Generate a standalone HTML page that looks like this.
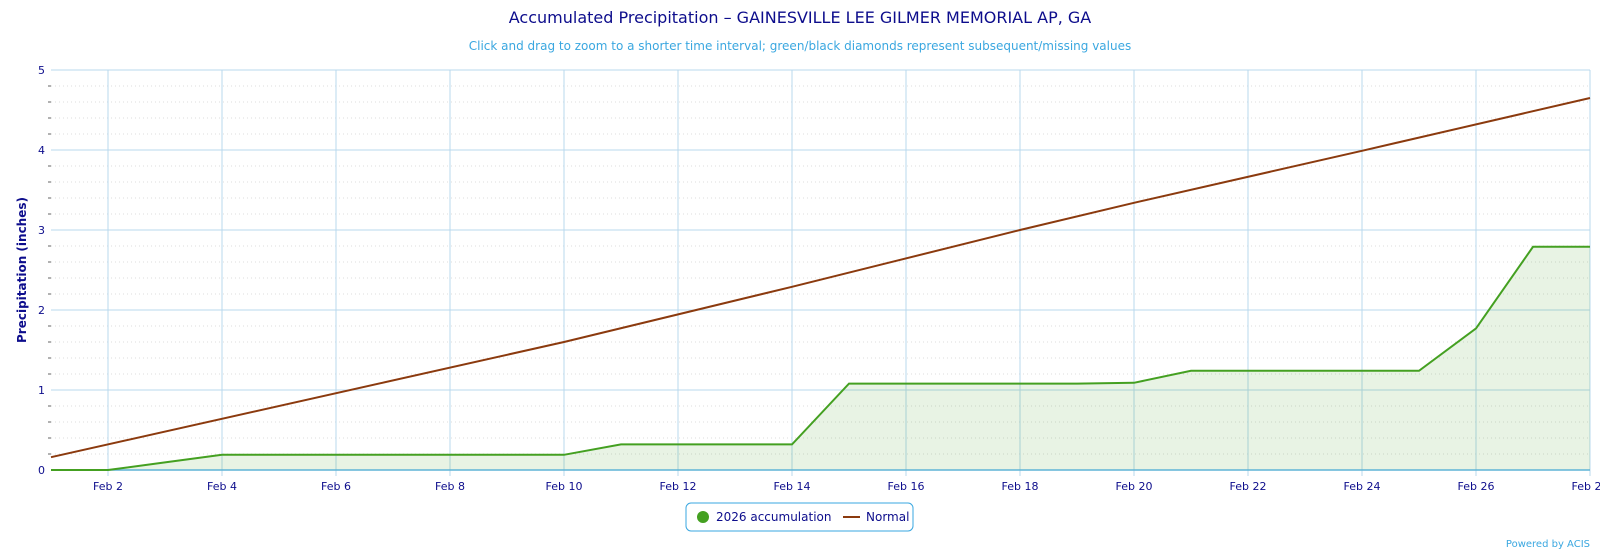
<!DOCTYPE html>
<html><head><meta charset="utf-8"><style>
body{margin:0;background:#fff;width:1600px;height:552px;overflow:hidden;font-family:"Liberation Sans","DejaVu Sans",sans-serif}
</style></head><body>
<svg width="1600" height="552" xmlns="http://www.w3.org/2000/svg" font-family="DejaVu Sans, Liberation Sans, sans-serif">
<text x="800" y="23" text-anchor="middle" font-size="16" fill="#0d0d8c">Accumulated Precipitation – GAINESVILLE LEE GILMER MEMORIAL AP, GA</text>
<text x="800" y="50" text-anchor="middle" font-size="12" fill="#3aa7e0">Click and drag to zoom to a shorter time interval; green/black diamonds represent subsequent/missing values</text>
<g id="g"></g>
<text x="26" y="270" transform="rotate(-90 26 270)" text-anchor="middle" font-size="12" font-weight="bold" fill="#0d0d8c">Precipitation (inches)</text>
<rect x="686" y="503" width="227" height="28" rx="5" fill="#fff" stroke="#3aa7e0"/>
<circle cx="703" cy="517" r="6" fill="#44a021"/>
<text x="716" y="521" font-size="12" fill="#0d0d8c">2026 accumulation</text>
<line x1="843" y1="517" x2="860" y2="517" stroke="#8b3a0e" stroke-width="2"/>
<text x="866" y="521" font-size="12" fill="#0d0d8c">Normal</text>
<text x="1590" y="547" text-anchor="end" font-size="10" fill="#3aa7e0">Powered by ACIS</text>
</svg>
<script>
const X=d=>51+(d-1)*57, Y=v=>470-v*80;
let s='';
for(let i=0;i<25;i++){if(i%5)s+=`<line x1="51" x2="1590" y1="${Y(i*0.2)}" y2="${Y(i*0.2)}" stroke="#ddd" stroke-dasharray="1,3"/><line x1="48" x2="51" y1="${Y(i*0.2)}" y2="${Y(i*0.2)}" stroke="#666"/>`;}
for(let v=1;v<=5;v++)s+=`<line x1="51" x2="1590" y1="${Y(v)}" y2="${Y(v)}" stroke="#b8d8ee"/>`;
for(let v=0;v<=5;v++)s+=`<text x="45" y="${Y(v)+4}" text-anchor="end" font-size="11" fill="#0d0d8c">${v}</text>`;
for(let d=2;d<=28;d+=2){s+=`<line x1="${X(d)}" x2="${X(d)}" y1="70" y2="476" stroke="#b8d8ee"/><text x="${X(d)}" y="490" text-anchor="middle" font-size="11" fill="#0d0d8c">Feb ${d}</text>`;}
s+=`<line x1="1590" x2="1590" y1="70" y2="470" stroke="#b8d8ee"/>`;
const g=[0,0,0.095,0.19,0.19,0.19,0.19,0.19,0.19,0.19,0.32,0.32,0.32,0.32,1.08,1.08,1.08,1.08,1.08,1.09,1.24,1.24,1.24,1.24,1.24,1.77,2.79,2.79];
let p=g.map((v,i)=>`${X(i+1)},${Y(v)}`).join(' ');
s+=`<polygon points="${X(1)},470 ${p} ${X(28)},470" fill="#44a021" fill-opacity="0.12"/>`;
s+=`<line x1="51" x2="1590" y1="470" y2="470" stroke="#5fb4d6" stroke-width="1.5"/>`;
s+=`<polyline points="${p}" fill="none" stroke="#44a021" stroke-width="2"/>`;
const n=[[1,.16],[10,1.6],[14,2.29],[18,3.0],[20,3.34],[24,3.99],[28,4.65]];
s+=`<polyline points="${n.map(a=>X(a[0])+','+Y(a[1])).join(' ')}" fill="none" stroke="#8b3a0e" stroke-width="2"/>`;
document.getElementById('g').innerHTML=s;
</script>
</body></html>
